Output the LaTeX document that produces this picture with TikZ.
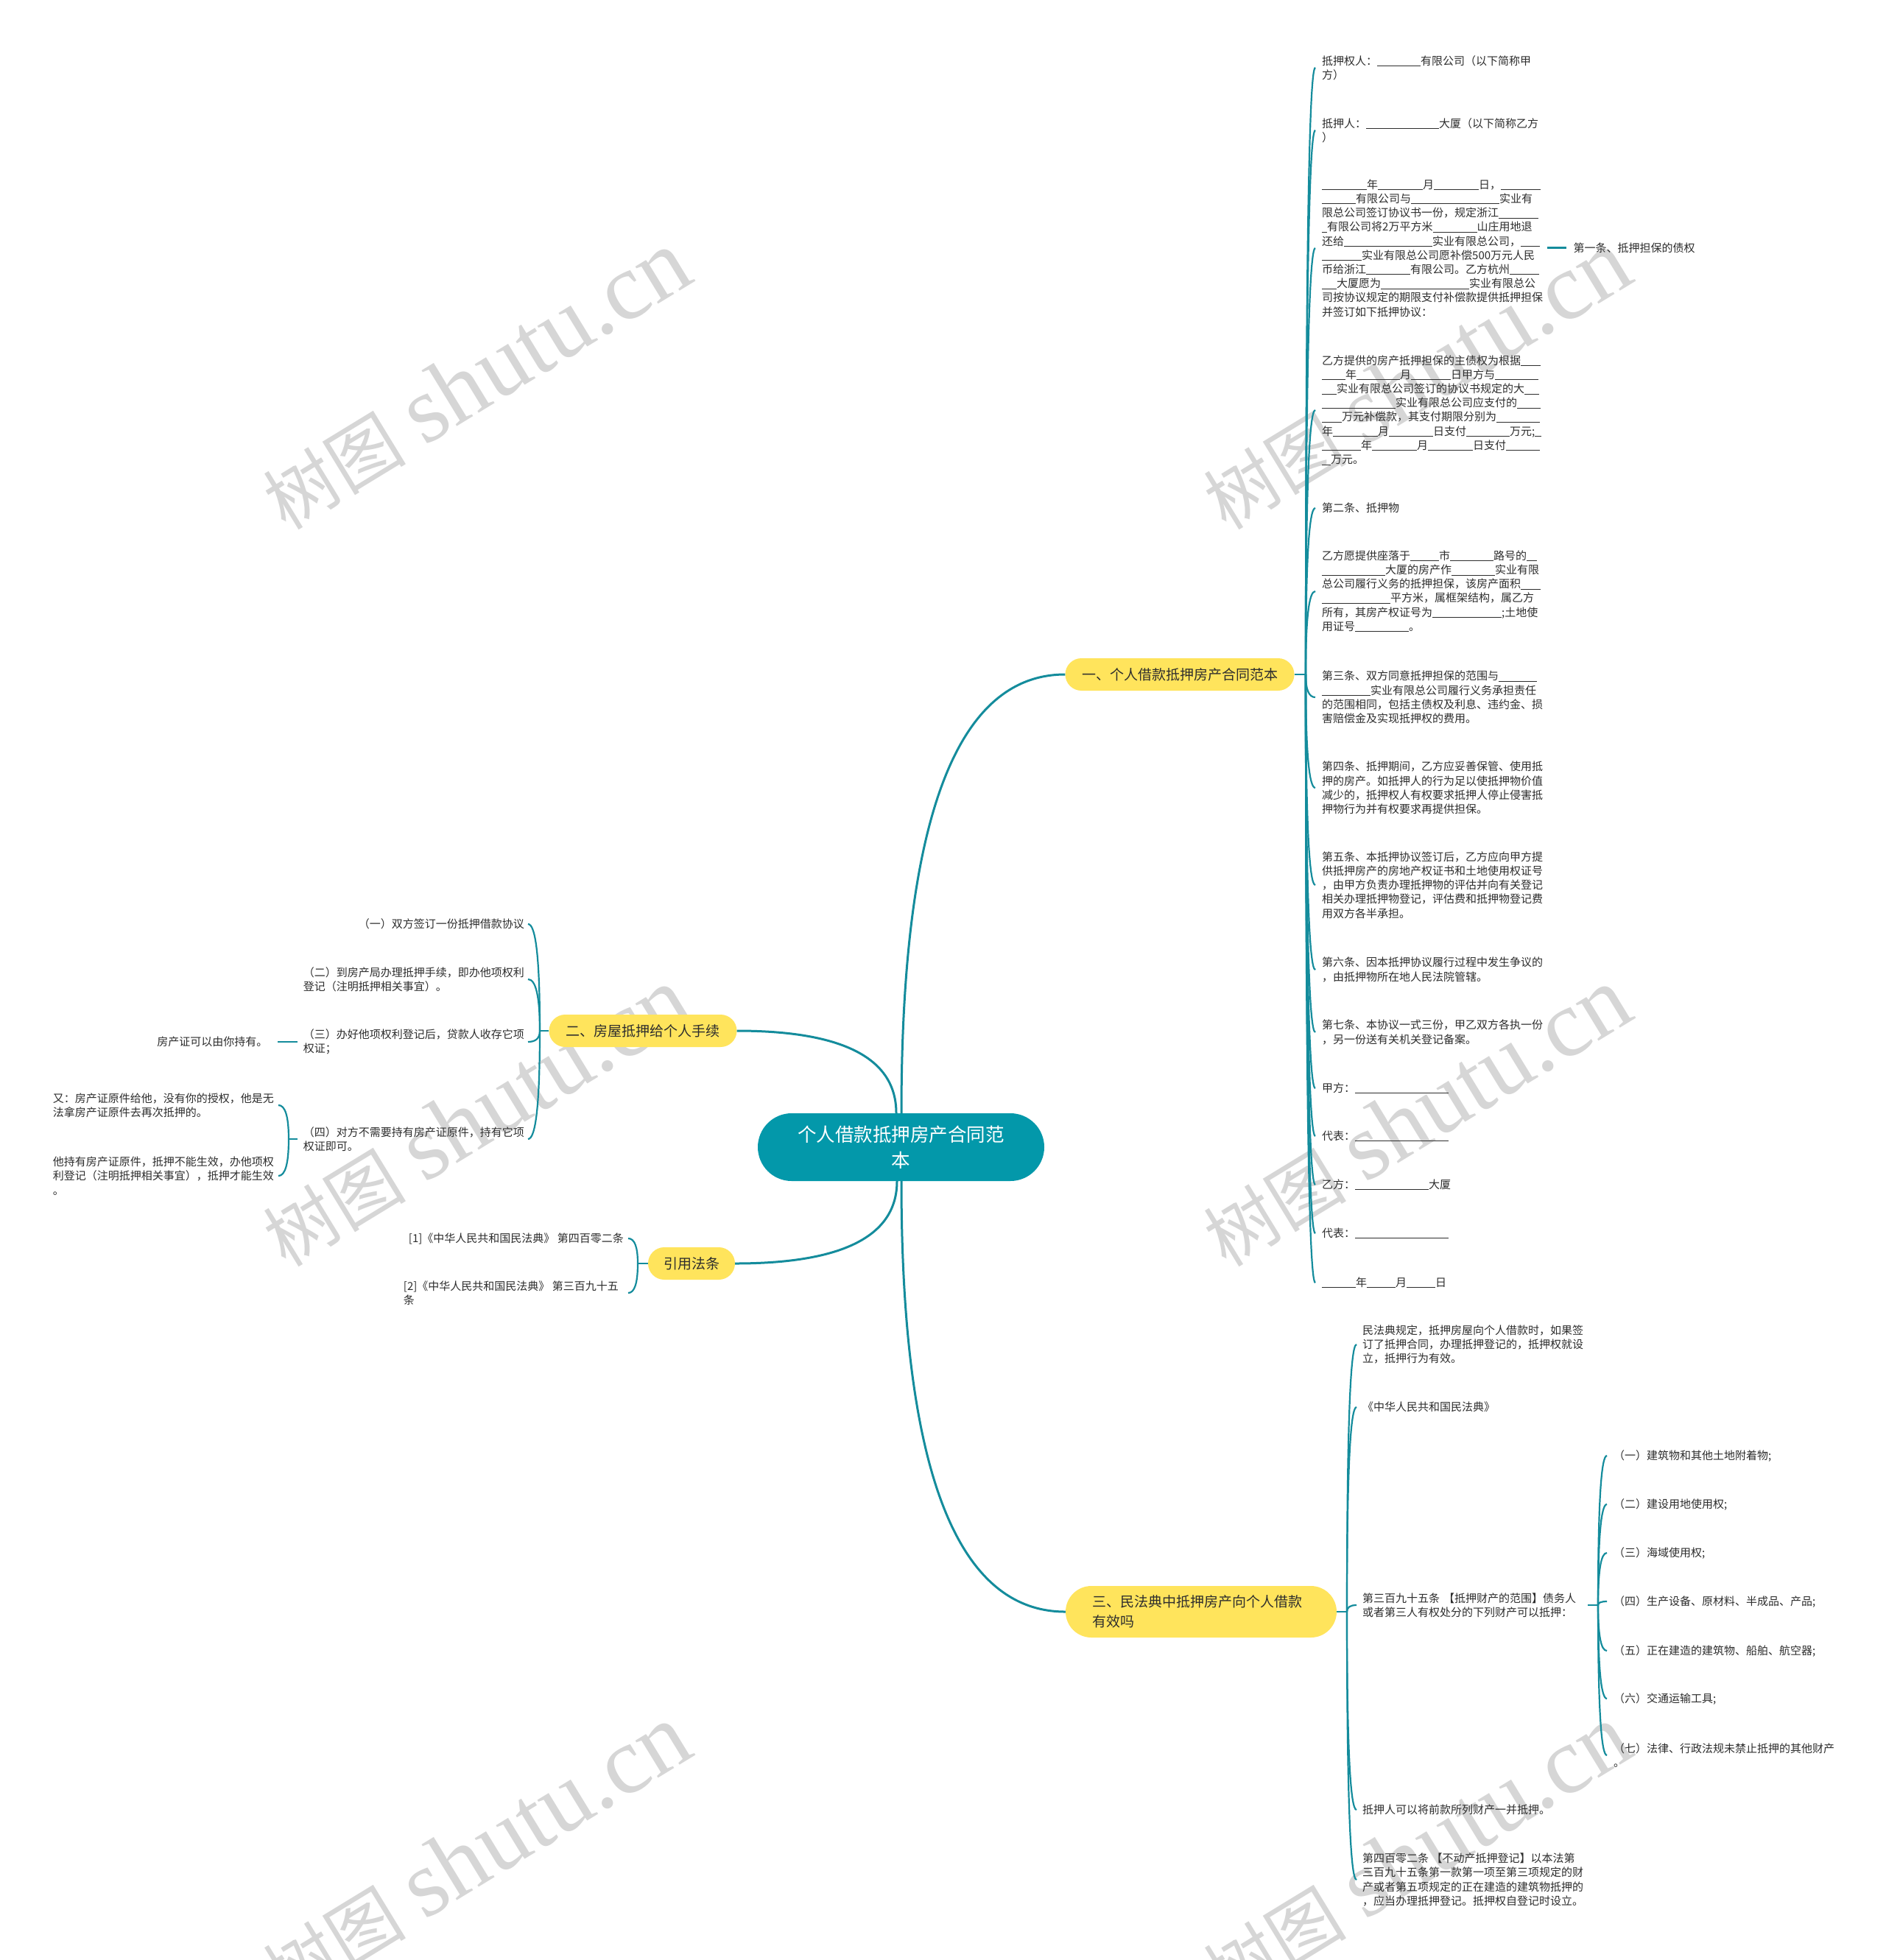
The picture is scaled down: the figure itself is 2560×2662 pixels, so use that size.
\documentclass[tikz,border=0pt]{standalone}
\usepackage{fontspec}
\setmainfont{Noto Sans CJK SC}
\newfontfamily\wmlatin{Liberation Serif}
\usetikzlibrary{calc}
\definecolor{tealC}{RGB}{3,152,170}
\definecolor{lineC}{RGB}{20,140,156}
\definecolor{yelC}{RGB}{255,228,92}
\definecolor{txtC}{RGB}{45,45,45}
\definecolor{wmC}{RGB}{214,214,214}
\newcommand\blnk[1]{\rule[-2pt]{#1pt}{1pt}}
\newcommand\qlink[3][link]{%
  \path (#2) coordinate (qa) (#3) coordinate (qb);
  \path (qa |- qb) coordinate (qc);
  \draw[#1] (qa) .. controls ($(qa)!0.6667!(qc)$) and ($(qb)!0.6667!(qc)$) .. (qb);}
\tikzset{
  leaf/.style={inner sep=0pt, font=\fontsize{15}{19.2}\selectfont, align=left, text=txtC},
  leafL/.style={leaf, anchor=west},
  leafR/.style={leaf, anchor=east},
  branch/.style={fill=yelC, rounded corners=22pt, inner xsep=0pt, inner ysep=0pt,
    minimum height=44pt, font=\fontsize{19}{25}\selectfont, text=txtC},
  branchwide/.style={fill=yelC, rounded corners=35pt, inner xsep=36pt, inner ysep=0pt,
    minimum height=70pt, text width=296pt, align=left, font=\fontsize{19}{27}\selectfont, text=txtC},
  rootbox/.style={fill=tealC, rounded corners=46pt, minimum width=389pt, minimum height=92pt,
    inner sep=0pt, font=\fontsize{25.5}{35}\selectfont, text=white, align=center},
  link/.style={draw=lineC, line width=2.2pt},
  mainlink/.style={draw=lineC, line width=3pt},
  wmark/.style={rotate=31.4, text=wmC, inner sep=0pt},
}
\begin{document}
\begin{tikzpicture}[x=1pt,y=-1pt]
\useasboundingbox (0,0) rectangle (2560,2662);
\fill[white] (0,0) rectangle (2560,2662);

% watermarks (behind everything)
\foreach \wx/\wy [count=\i] in {646/516,1923/516,646/1517,1923/1517,646/2518,1923/2518}{
  \node[wmark] (wm\i) at (\wx,\wy) {{\fontsize{97}{97}\selectfont 树图}\hspace{26pt}{\wmlatin\fontsize{129}{129}\selectfont shutu.cn}};
}

% root and branches
\node[rootbox] (root) at (1223.5,1558) {个人借款抵押房产合同范\\本};
\node[branch, minimum width=311pt] (B1) at (1602,916) {一、个人借款抵押房产合同范本};
\node[branch, minimum width=255pt] (B2) at (873,1400) {二、房屋抵押给个人手续};
\node[branch, minimum width=118pt] (B3) at (939,1716) {引用法条};
\node[branchwide] (B4) at (1631,2189) {三、民法典中抵押房产向个人借款\\有效吗};

\qlink[mainlink]{[xshift=0.5pt]root.north}{B1.west}
\qlink[mainlink]{[xshift=-6.5pt]root.north}{B2.east}
\qlink[mainlink]{[xshift=-5.5pt]root.south}{B3.east}
\qlink[mainlink]{[xshift=0.5pt]root.south}{B4.west}

% ---------- branch 1 children ----------
\node[leafL] (c1) at (1795,92) {抵押权人：\blnk{59}有限公司（以下简称甲\\方）};
\node[leafL] (c2) at (1795,177) {抵押人：\blnk{99}大厦（以下简称乙方\\）};
\node[leafL] (c3) at (1795,337) {\blnk{61}年\blnk{61}月\blnk{61}日，\blnk{54}\\
\blnk{46}有限公司与\blnk{120}实业有\\
限总公司签订协议书一份，规定浙江\blnk{54}\\
\blnk{7}有限公司将2万平方米\blnk{60}山庄用地退\\
还给\blnk{120}实业有限总公司，\blnk{26}\\
\blnk{54}实业有限总公司愿补偿500万元人民\\
币给浙江\blnk{60}有限公司。乙方杭州\blnk{40}\\
\blnk{20}大厦愿为\blnk{120}实业有限总公\\
司按协议规定的期限支付补偿款提供抵押担保\\
并签订如下抵押协议：};
\node[leafL] (k1) at ([xshift=41pt]c3.east) {第一条、抵押担保的债权};
\node[leafL] (c4) at (1795,557) {乙方提供的房产抵押担保的主债权为根据\blnk{27}\\
\blnk{32}年\blnk{59}月\blnk{54}日甲方与\blnk{59}\\
\blnk{20}实业有限总公司签订的协议书规定的大\blnk{20}\\
\blnk{100}实业有限总公司应支付的\blnk{32}\\
\blnk{27}万元补偿款，其支付期限分别为\blnk{59}\\
年\blnk{61}月\blnk{60}日支付\blnk{59}万元;\blnk{9}\\
\blnk{53}年\blnk{61}月\blnk{61}日支付\blnk{46}\\
\blnk{12}万元。};
\node[leafL] (c5) at (1795,690) {第二条、抵押物};
\node[leafL] (c6) at (1795,803) {乙方愿提供座落于\blnk{39}市\blnk{59}路号的\blnk{14}\\
\blnk{86}大厦的房产作\blnk{59}实业有限\\
总公司履行义务的抵押担保，该房产面积\blnk{27}\\
\blnk{93}平方米，属框架结构，属乙方\\
所有，其房产权证号为\blnk{94};土地使\\
用证号\blnk{73}。};
\node[leafL] (c7) at (1795,947) {第三条、双方同意抵押担保的范围与\blnk{52}\\
\blnk{66}实业有限总公司履行义务承担责任\\
的范围相同，包括主债权及利息、违约金、损\\
害赔偿金及实现抵押权的费用。};
\node[leafL] (c8) at (1795,1070) {第四条、抵押期间，乙方应妥善保管、使用抵\\
押的房产。如抵押人的行为足以使抵押物价值\\
减少的，抵押权人有权要求抵押人停止侵害抵\\
押物行为并有权要求再提供担保。};
\node[leafL] (c9) at (1795,1202) {第五条、本抵押协议签订后，乙方应向甲方提\\
供抵押房产的房地产权证书和土地使用权证号\\
，由甲方负责办理抵押物的评估并向有关登记\\
相关办理抵押物登记，评估费和抵押物登记费\\
用双方各半承担。};
\node[leafL] (c10) at (1795,1317) {第六条、因本抵押协议履行过程中发生争议的\\，由抵押物所在地人民法院管辖。};
\node[leafL] (c11) at (1795,1402) {第七条、本协议一式三份，甲乙双方各执一份\\，另一份送有关机关登记备案。};
\node[leafL] (c12) at (1795,1478) {甲方：\blnk{127}};
\node[leafL] (c13) at (1795,1543) {代表：\blnk{127}};
\node[leafL] (c14) at (1795,1609) {乙方：\blnk{100}大厦};
\node[leafL] (c15) at (1795,1675) {代表：\blnk{127}};
\node[leafL] (c16) at (1795,1742) {\blnk{46}年\blnk{39}月\blnk{39}日};

\coordinate (s1) at (1773,916);
\draw[link] (B1.east) -- (s1);
\foreach \c in {c1,c2,c3,c4,c5,c6,c7,c8,c9,c10,c11,c12,c13,c14,c15,c16}{
  \qlink{s1}{[xshift=-9pt]\c.west}
}
\draw[mainlink] ([xshift=6pt]c3.east) -- ([xshift=-9pt]k1.west);

% ---------- branch 2 children ----------
\node[leafR] (d1) at (712,1255) {（一）双方签订一份抵押借款协议};
\node[leafR] (d2) at (712,1330) {（二）到房产局办理抵押手续，即办他项权利\\登记（注明抵押相关事宜）。};
\node[leafR] (d3) at (712,1415) {（三）办好他项权利登记后，贷款人收存它项\\权证；};
\node[leafR] (d4) at (712,1547) {（四）对方不需要持有房产证原件，持有它项\\权证即可。};
\node[leafR] (k2) at ([xshift=-48pt]d3.west) {房产证可以由你持有。};
\node[leafR] (e1) at (372,1501) {又：房产证原件给他，没有你的授权，他是无\\法拿房产证原件去再次抵押的。};
\node[leafR] (e2) at (372,1597) {他持有房产证原件，抵押不能生效，办他项权\\利登记（注明抵押相关事宜），抵押才能生效\\。};

\coordinate (s2) at (733,1400);
\draw[link] (B2.west) -- (s2);
\foreach \c in {d1,d2,d3,d4}{
  \qlink{s2}{[xshift=5pt]\c.east}
}
\draw[link] ([xshift=-8pt]d3.west) -- ([xshift=13pt]k2.east);
\coordinate (s4) at (392,1547);
\draw[link] ([xshift=-8pt]d4.west) -- (s4);
\foreach \c in {e1,e2}{
  \qlink{s4}{[xshift=6pt]\c.east}
}

% ---------- branch 3 children ----------
\node[leafR] (f1) at (847,1682) {[1]《中华人民共和国民法典》 第四百零二条};
\node[leafR] (f2) at (840,1756) {[2]《中华人民共和国民法典》 第三百九十五\\条};
\coordinate (s3) at (866,1716);
\draw[link] (B3.west) -- (s3);
\qlink{s3}{[xshift=6pt]f1.east}
\qlink{s3}{[xshift=13pt]f2.east}

% ---------- branch 4 children ----------
\node[leafL] (g1) at (1850,1826) {民法典规定，抵押房屋向个人借款时，如果签\\
订了抵押合同，办理抵押登记的，抵押权就设\\
立，抵押行为有效。};
\node[leafL] (g2) at (1850,1911) {《中华人民共和国民法典》};
\node[leafL, text width=300pt] (g3) at (1850,2180) {第三百九十五条 【抵押财产的范围】债务人\\
或者第三人有权处分的下列财产可以抵押：};
\node[leafL] (g4) at (1850,2458) {抵押人可以将前款所列财产一并抵押。};
\node[leafL] (g5) at (1850,2553) {第四百零二条 【不动产抵押登记】以本法第\\
三百九十五条第一款第一项至第三项规定的财\\
产或者第五项规定的正在建造的建筑物抵押的\\
，应当办理抵押登记。抵押权自登记时设立。};
\coordinate (s5) at (1829,2189);
\draw[link] (B4.east) -- (s5);
\foreach \c in {g1,g2,g3,g4,g5}{
  \qlink{s5}{[xshift=-8pt]\c.west}
}

\node[leafL] (h1) at (2191,1977) {（一）建筑物和其他土地附着物;};
\node[leafL] (h2) at (2191,2043) {（二）建设用地使用权;};
\node[leafL] (h3) at (2191,2109) {（三）海域使用权;};
\node[leafL] (h4) at (2191,2175) {（四）生产设备、原材料、半成品、产品;};
\node[leafL] (h5) at (2191,2242) {（五）正在建造的建筑物、船舶、航空器;};
\node[leafL] (h6) at (2191,2307) {（六）交通运输工具;};
\node[leafL] (h7) at (2191,2384) {（七）法律、行政法规未禁止抵押的其他财产\\。};
\coordinate (s6) at (2170,2180);
\draw[link] ([xshift=6pt]g3.east) -- (s6);
\foreach \c in {h1,h2,h3,h4,h5,h6,h7}{
  \qlink{s6}{[xshift=-9pt]\c.west}
}
\end{tikzpicture}
\end{document}
